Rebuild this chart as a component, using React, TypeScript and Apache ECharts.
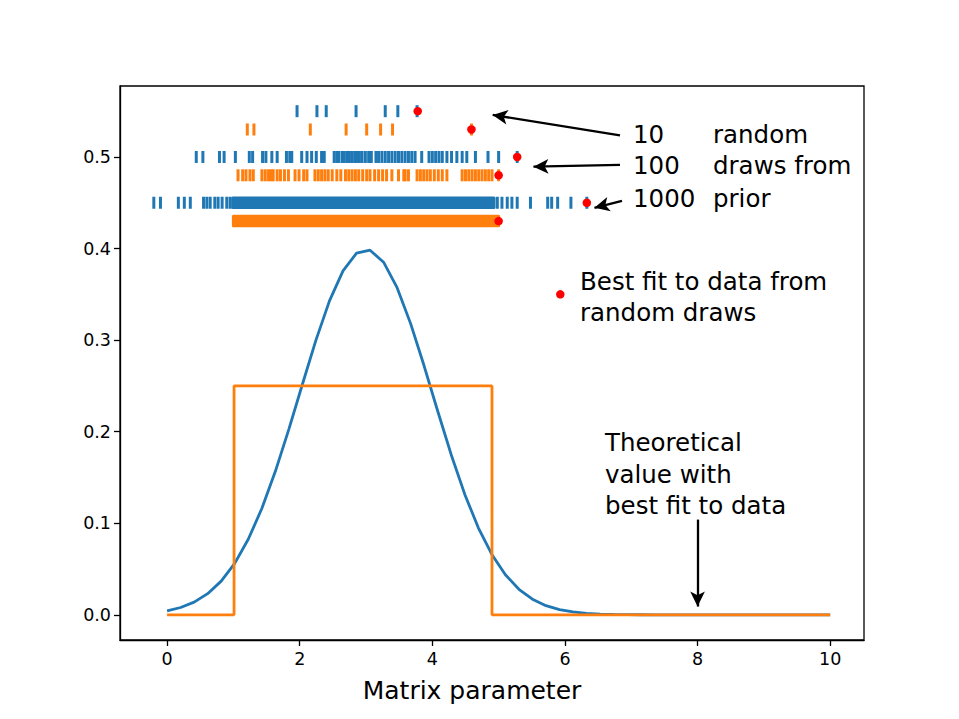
import React, { useEffect, useRef } from "react";
import * as echarts from "echarts";

// Theoretical curves
const curveX = [
  0, 0.204, 0.408, 0.612, 0.816, 1.02, 1.224, 1.429, 1.633, 1.837, 2.041, 2.245, 2.449,
  2.653, 2.857, 3.061, 3.265, 3.469, 3.673, 3.878, 4.082, 4.286, 4.49, 4.694, 4.898,
  5.102, 5.306, 5.51, 5.714, 5.918, 6.122, 6.327, 6.531, 6.735, 6.939, 7.143, 7.347,
  7.551, 7.755, 7.959, 8.163, 8.367, 8.571, 8.776, 8.98, 9.184, 9.388, 9.592, 9.796, 10,
];
const normalValues = [
  0.0044, 0.008, 0.0139, 0.0231, 0.0368, 0.0562, 0.0825, 0.1161, 0.1567, 0.2028, 0.2518,
  0.3, 0.3428, 0.3756, 0.3949, 0.3982, 0.3851, 0.3573, 0.318, 0.2714, 0.2223, 0.1746,
  0.1315, 0.095, 0.0659, 0.0438, 0.0279, 0.0171, 0.01, 0.0056, 0.0031, 0.0016, 0.0008,
  0.0004, 0.0002, 0.0001, 0, 0, 0, 0, 0, 0, 0, 0, 0, 0, 0, 0, 0, 0,
];
const uniformX = [0, 1.01, 1.01, 4.9, 4.9, 10];
const uniformY = [0, 0, 0.25, 0.25, 0, 0];

// Random draws (rug rows)
const blue10 = [1.96, 2.26, 2.4, 2.85, 3.29, 3.48, 3.77];
const orange10 = [1.21, 1.31, 2.16, 2.7, 3.01, 3.22, 3.4, 4.59];
const blue100 = [
  0.44, 0.54, 0.79, 0.86, 1.03, 1.24, 1.29, 1.44, 1.49, 1.58, 1.66, 1.8, 1.85, 1.88, 2.03,
  2.11, 2.18, 2.25, 2.33, 2.37, 2.52, 2.56, 2.59, 2.64, 2.67, 2.71, 2.75, 2.79, 2.83, 2.86,
  2.9, 2.94, 2.99, 3.04, 3.08, 3.15, 3.19, 3.24, 3.29, 3.34, 3.39, 3.44, 3.49, 3.54, 3.59,
  3.64, 3.69, 3.74, 3.84, 3.95, 4.0, 4.05, 4.1, 4.15, 4.22, 4.29, 4.37, 4.45, 4.52, 4.65,
  4.84, 5.0, 5.28,
];
const orange100 = [
  1.07, 1.14, 1.19, 1.25, 1.3, 1.43, 1.48, 1.53, 1.57, 1.6, 1.66, 1.71, 1.77, 1.83, 1.93,
  1.99, 2.06, 2.11, 2.23, 2.28, 2.33, 2.38, 2.43, 2.49, 2.56, 2.62, 2.69, 2.74, 2.79, 2.84,
  2.89, 2.95, 3.01, 3.06, 3.13, 3.19, 3.25, 3.31, 3.39, 3.49, 3.57, 3.59, 3.64, 3.77, 3.82,
  3.87, 3.92, 3.97, 4.03, 4.09, 4.15, 4.22, 4.45, 4.5, 4.55, 4.6, 4.65, 4.7, 4.75, 4.8,
  4.85, 4.9, 5.0,
];
const blue1000Sparse = [
  -0.2, -0.1, 0.17, 0.26, 0.35, 0.55, 0.6, 0.65, 0.72, 0.77, 0.83, 0.9, 0.95,
  4.98, 5.05, 5.13, 5.2, 5.28, 5.48, 5.74, 5.8, 5.89, 6.09, 6.33,
];
// ranges where the 1000 draws are so dense that ticks merge into one band
const blue1000Dense = [0.99, 4.93];
const orange1000Dense = [1.0, 5.0];

const rowBlue10 = 0.55;
const rowOrange10 = 0.53;
const rowBlue100 = 0.5;
const rowOrange100 = 0.48;
const rowBlue1000 = 0.45;
const rowOrange1000 = 0.43;

const bestFitX = [3.78, 4.59, 5.28, 5.0, 6.33, 5.0];
const bestFitY = [0.55, 0.53, 0.5, 0.48, 0.45, 0.43];
const legendDot = [5.93, 0.35];

const xTicks = [0, 2, 4, 6, 8, 10];
const yTicks = [0, 0.1, 0.2, 0.3, 0.4, 0.5];

// arrows: [tailX, tailY, tipX, tipY]
const arrows = [
  [6.83, 0.5236, 4.91, 0.5459],
  [6.83, 0.4913, 5.525, 0.4894],
  [6.86, 0.452, 6.445, 0.4445],
  [8.0, 0.104, 8.0, 0.009],
];

const BLUE = "#1f77b4";
const ORANGE = "#ff7f0e";
const FONT = '"DejaVu Sans", sans-serif';

function rug(values: number[], y: number, color: string) {
  return {
    type: "scatter",
    symbol: "rect",
    symbolSize: [3, 12],
    itemStyle: { color, opacity: 1 },
    data: values.map((v) => [v, y]),
    silent: true,
    z: 3,
  };
}

function band(range: number[], y: number, color: string) {
  return {
    type: "custom",
    silent: true,
    z: 3,
    encode: { x: [0, 1], y: 2 },
    data: [[range[0], range[1], y]],
    renderItem: (params: any, api: any) => {
      const s = api.coord([api.value(0), api.value(2)]);
      const e = api.coord([api.value(1), api.value(2)]);
      return {
        type: "rect",
        shape: { x: s[0] - 1.5, y: s[1] - 6.25, width: e[0] - s[0] + 3, height: 12.5, r: 1.5 },
        style: { fill: color },
      };
    },
  };
}

function txt(text: string, x: number, y: number, size: number, align = "left") {
  return {
    type: "text",
    x,
    y,
    silent: true,
    style: {
      text,
      fill: "#000",
      font: `${size}px ${FONT}`,
      align,
      verticalAlign: "middle",
      textAlign: align,
      textVerticalAlign: "middle",
    },
  };
}

export default function App() {
  const ref = useRef<HTMLDivElement>(null);
  useEffect(() => {
    if (!ref.current) return;
    const chart = echarts.init(ref.current, null, { renderer: "svg" });
    const option: any = {
      animation: false,
      backgroundColor: "#fff",
      grid: {
        left: 120,
        top: 86,
        width: 744,
        height: 554,
        show: true,
        borderColor: "#000",
        borderWidth: 1.3,
        backgroundColor: "transparent",
      },
      xAxis: {
        type: "value",
        min: -0.71,
        max: 10.51,
        splitLine: { show: false },
        axisLine: { show: true, onZero: false, lineStyle: { color: "#000", width: 1.3 } },
        axisTick: { show: true, length: 6, customValues: xTicks, lineStyle: { color: "#000", width: 1.3 } },
        axisLabel: {
          customValues: xTicks,
          margin: 10,
          color: "#000",
          fontSize: 17.5,
          fontFamily: FONT,
          formatter: (v: number) => String(v),
        },
      },
      yAxis: {
        type: "value",
        min: -0.0275,
        max: 0.5775,
        splitLine: { show: false },
        axisLine: { show: true, onZero: false, lineStyle: { color: "#000", width: 1.3 } },
        axisTick: { show: true, length: 6, customValues: yTicks, lineStyle: { color: "#000", width: 1.3 } },
        axisLabel: {
          customValues: yTicks,
          margin: 9,
          color: "#000",
          fontSize: 17.5,
          fontFamily: FONT,
          formatter: (v: number) => v.toFixed(1),
        },
      },
      series: [
        {
          type: "line",
          data: curveX.map((x, i) => [x, normalValues[i]]),
          showSymbol: false,
          symbol: "none",
          lineStyle: { color: BLUE, width: 2.8 },
          itemStyle: { color: BLUE },
          silent: true,
          z: 2,
        },
        {
          type: "line",
          data: uniformX.map((x, i) => [x, uniformY[i]]),
          showSymbol: false,
          symbol: "none",
          lineStyle: { color: ORANGE, width: 2.8 },
          itemStyle: { color: ORANGE },
          silent: true,
          z: 2,
        },
        rug(blue10, rowBlue10, BLUE),
        rug(orange10, rowOrange10, ORANGE),
        rug(blue100, rowBlue100, BLUE),
        rug(orange100, rowOrange100, ORANGE),
        rug(blue1000Sparse, rowBlue1000, BLUE),
        band(blue1000Dense, rowBlue1000, BLUE),
        band(orange1000Dense, rowOrange1000, ORANGE),
        {
          type: "scatter",
          symbol: "circle",
          symbolSize: 8.5,
          itemStyle: { color: "#ff0000", opacity: 1 },
          data: [...bestFitX.map((x, i) => [x, bestFitY[i]]), legendDot],
          silent: true,
          z: 5,
          markLine: {
            silent: true,
            animation: false,
            symbol: ["none", "arrow"],
            symbolSize: [11, 15],
            label: { show: false },
            lineStyle: { color: "#000", width: 2.3, type: "solid" },
            emphasis: { disabled: true },
            data: arrows.map((a) => [
              { coord: [a[0], a[1]] },
              { coord: [a[2], a[3]] },
            ]),
          },
        },
      ],
      graphic: [
        txt("10", 633, 134, 24.5),
        txt("random", 713, 134, 24.5),
        txt("100", 633, 165.5, 24.5),
        txt("draws from", 713, 165.5, 24.5),
        txt("1000", 633, 198, 24.5),
        txt("prior", 713, 198, 24.5),
        txt("Best fit to data from", 580, 281, 24.5),
        txt("random draws", 580, 312, 24.5),
        txt("Theoretical", 605, 442.5, 24.5),
        txt("value with", 605, 474, 24.5),
        txt("best fit to data", 605, 505.5, 24.5),
        txt("Matrix parameter", 472, 690, 25, "center"),
      ],
    };
    chart.setOption(option);
    return () => chart.dispose();
  }, []);
  return (
    <div
      ref={ref}
      style={{ position: "absolute", left: 0, top: 0, width: 959, height: 719, background: "#fff" }}
    />
  );
}
